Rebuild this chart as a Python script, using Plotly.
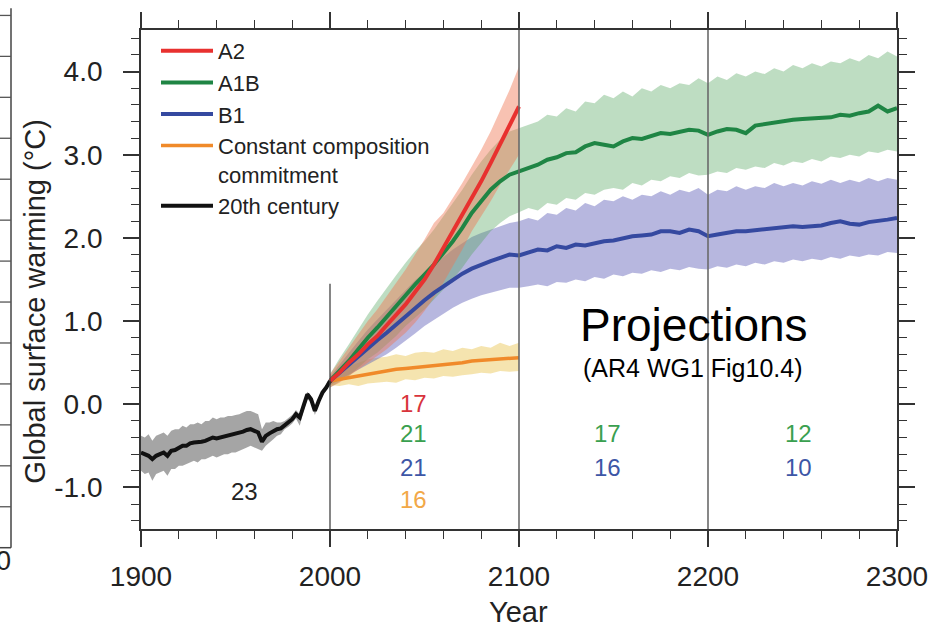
import plotly.graph_objects as go

# ---------------- data ----------------
years_20c = [1900, 1902, 1904, 1906, 1908, 1910, 1912, 1914, 1916, 1918, 1920, 1922, 1924,
             1926, 1928, 1930, 1932, 1934, 1936, 1938, 1940, 1942, 1944, 1946, 1948, 1950,
             1952, 1954, 1956, 1958, 1960, 1962, 1964, 1966, 1968, 1970, 1972, 1974, 1976,
             1978, 1980, 1982, 1984, 1986, 1988, 1990, 1992, 1994, 1996, 1998, 2000]
c20_mean = [-.58, -.60, -.62, -.66, -.62, -.60, -.58, -.62, -.56, -.55, -.52, -.50, -.50,
            -.47, -.46, -.46, -.45, -.44, -.42, -.40, -.41, -.40, -.38, -.38, -.37, -.36,
            -.35, -.33, -.31, -.30, -.32, -.34, -.45, -.38, -.35, -.32, -.30, -.29, -.25,
            -.22, -.18, -.12, -.16, -.02, .12, .06, -.08, .04, .14, .20, .28]
c20_upper = [-.38, -.40, -.36, -.44, -.38, -.36, -.34, -.38, -.32, -.30, -.30, -.26, -.28,
             -.24, -.24, -.22, -.24, -.20, -.20, -.16, -.18, -.16, -.16, -.14, -.14, -.13,
             -.12, -.10, -.08, -.08, -.10, -.12, -.30, -.22, -.22, -.20, -.22, -.22, -.20,
             -.17, -.13, -.07, -.12, .02, .15, .10, -.04, .08, .18, .24, .31]
c20_lower = [-.80, -.84, -.82, -.92, -.84, -.82, -.80, -.86, -.78, -.78, -.74, -.74, -.72,
             -.70, -.68, -.70, -.66, -.66, -.64, -.62, -.64, -.62, -.60, -.60, -.58, -.58,
             -.56, -.54, -.52, -.50, -.52, -.54, -.56, -.50, -.46, -.42, -.38, -.36, -.30,
             -.27, -.23, -.17, -.26, -.08, .06, .02, -.13, .00, .10, .17, .24]

years_21c = [2000, 2005, 2010, 2015, 2020, 2025, 2030, 2035, 2040, 2045, 2050,
             2055, 2060, 2065, 2070, 2075, 2080, 2085, 2090, 2095, 2100]
a2_mean = [.28, .38, .50, .60, .72, .82, .95, 1.08, 1.20, 1.35, 1.50,
           1.68, 1.88, 2.06, 2.26, 2.46, 2.68, 2.90, 3.12, 3.35, 3.58]
a2_upper = [.36, .52, .68, .84, 1.00, 1.14, 1.30, 1.46, 1.62, 1.80, 1.98,
            2.18, 2.30, 2.48, 2.66, 2.86, 3.06, 3.28, 3.52, 3.78, 4.06]
a2_lower = [.20, .26, .34, .42, .50, .58, .66, .76, .86, .98, 1.12,
            1.28, 1.46, 1.66, 1.86, 2.08, 2.26, 2.44, 2.64, 2.82, 3.00]
cc_mean = [.28, .30, .33, .35, .37, .39, .40, .42, .43, .44, .46,
           .46, .48, .49, .50, .52, .53, .54, .54, .56, .56]
cc_upper = [.33, .40, .46, .50, .54, .56, .57, .60, .58, .62, .63,
            .62, .66, .64, .68, .66, .70, .68, .74, .70, .74]
cc_lower = [.23, .22, .24, .22, .25, .26, .27, .26, .30, .29, .32,
            .31, .34, .33, .35, .36, .38, .37, .40, .39, .40]

years_long = [2000, 2005, 2010, 2015, 2020, 2025, 2030, 2035, 2040, 2045, 2050,
              2055, 2060, 2065, 2070, 2075, 2080, 2085, 2090, 2095, 2100,
              2105, 2110, 2115, 2120, 2125, 2130, 2135, 2140, 2145, 2150,
              2155, 2160, 2165, 2170, 2175, 2180, 2185, 2190, 2195, 2200,
              2205, 2210, 2215, 2220, 2225, 2230, 2235, 2240, 2245, 2250,
              2255, 2260, 2265, 2270, 2275, 2280, 2285, 2290, 2295, 2300]
a1b_mean = [.28, .40, .52, .66, .80, .92, 1.05, 1.18, 1.32, 1.44, 1.56,
            1.68, 1.82, 1.96, 2.12, 2.30, 2.44, 2.58, 2.68, 2.76, 2.80,
            2.84, 2.88, 2.94, 2.97, 3.02, 3.03, 3.10, 3.14, 3.12, 3.10,
            3.16, 3.20, 3.19, 3.22, 3.26, 3.25, 3.28, 3.30, 3.29, 3.24,
            3.28, 3.31, 3.30, 3.26, 3.35, 3.37, 3.38, 3.40, 3.42, 3.43,
            3.44, 3.44, 3.45, 3.48, 3.47, 3.50, 3.52, 3.59, 3.52, 3.56]
a1b_upper = [.36, .55, .72, .90, 1.08, 1.24, 1.40, 1.55, 1.70, 1.84, 1.96,
             2.10, 2.26, 2.42, 2.58, 2.76, 2.92, 3.06, 3.18, 3.28, 3.32,
             3.36, 3.40, 3.48, 3.46, 3.56, 3.52, 3.64, 3.62, 3.72, 3.68,
             3.76, 3.70, 3.80, 3.76, 3.84, 3.80, 3.86, 3.84, 3.92, 3.86,
             3.94, 3.90, 3.98, 3.94, 4.00, 3.97, 4.04, 4.00, 4.08, 4.04,
             4.10, 4.06, 4.12, 4.10, 4.16, 4.12, 4.20, 4.16, 4.24, 4.18]
a1b_lower = [.20, .27, .34, .44, .54, .62, .72, .82, .94, 1.04, 1.14,
             1.26, 1.38, 1.50, 1.64, 1.80, 1.94, 2.08, 2.18, 2.26, 2.31,
             2.36, 2.33, 2.42, 2.40, 2.48, 2.46, 2.54, 2.52, 2.58, 2.60,
             2.58, 2.66, 2.63, 2.70, 2.68, 2.74, 2.72, 2.78, 2.75, 2.76,
             2.80, 2.78, 2.84, 2.82, 2.86, 2.84, 2.90, 2.87, 2.92, 2.90,
             2.95, 2.92, 2.98, 2.96, 3.00, 2.98, 3.04, 3.02, 3.06, 3.04]
b1_mean = [.28, .38, .48, .58, .68, .77, .86, .96, 1.06, 1.16, 1.25,
           1.34, 1.42, 1.50, 1.57, 1.63, 1.68, 1.72, 1.76, 1.80, 1.79,
           1.82, 1.86, 1.85, 1.90, 1.88, 1.92, 1.91, 1.94, 1.96, 1.97,
           2.00, 2.02, 2.03, 2.04, 2.08, 2.08, 2.06, 2.10, 2.08, 2.02,
           2.04, 2.06, 2.08, 2.08, 2.09, 2.10, 2.11, 2.12, 2.14, 2.13,
           2.14, 2.15, 2.18, 2.20, 2.17, 2.16, 2.19, 2.20, 2.22, 2.24]
b1_upper = [.33, .48, .62, .76, .90, 1.02, 1.14, 1.26, 1.38, 1.49, 1.58,
            1.68, 1.77, 1.86, 1.94, 2.01, 2.06, 2.10, 2.14, 2.18, 2.20,
            2.24, 2.21, 2.30, 2.28, 2.36, 2.33, 2.42, 2.38, 2.46, 2.44,
            2.50, 2.46, 2.52, 2.50, 2.56, 2.52, 2.58, 2.55, 2.60, 2.52,
            2.58, 2.56, 2.62, 2.58, 2.62, 2.60, 2.66, 2.62, 2.66, 2.63,
            2.68, 2.65, 2.70, 2.66, 2.70, 2.67, 2.72, 2.68, 2.72, 2.70]
b1_lower = [.23, .30, .36, .42, .48, .54, .60, .68, .76, .85, .94,
            1.02, 1.09, 1.16, 1.22, 1.27, 1.31, 1.34, 1.37, 1.40, 1.40,
            1.42, 1.44, 1.42, 1.47, 1.46, 1.50, 1.48, 1.53, 1.51, 1.56,
            1.54, 1.58, 1.57, 1.61, 1.59, 1.63, 1.61, 1.65, 1.63, 1.62,
            1.66, 1.64, 1.68, 1.66, 1.70, 1.68, 1.72, 1.70, 1.74, 1.72,
            1.75, 1.73, 1.77, 1.75, 1.79, 1.77, 1.80, 1.79, 1.83, 1.82]

series_names = ["A2", "A1B", "B1", "Constant composition<br>commitment", "20th century"]
x_tick_vals = [1900, 2000, 2100, 2200, 2300]
y_tick_vals = [-1, 0, 1, 2, 3, 4]
y_tick_text = ["-1.0", "0.0", "1.0", "2.0", "3.0", "4.0"]

# model counts written on the chart: (text, year, value, colour-key)
count_labels = [
    ("23", 1954.6, -1.05, "black"),
    ("17", 2044, 0.01, "red"), ("21", 2044, -0.354, "green"),
    ("21", 2044, -0.755, "blue"), ("16", 2044, -1.145, "orange"),
    ("17", 2147, -0.354, "green"), ("16", 2147, -0.755, "blue"),
    ("12", 2248, -0.354, "green"), ("10", 2248, -0.755, "blue"),
]

# ---------------- styling ----------------
RED, GREEN, BLUE, ORANGE, BLACK = "#e8312f", "#1f8544", "#3549a0", "#f08a2a", "#111111"
text_colors = {"black": "#222222", "red": "#d8343c", "green": "#3aa04f",
               "blue": "#3d56a6", "orange": "#f2a847"}
FONT = "Liberation Sans, Arial, sans-serif"

W, H = 940, 625
ML, MR, MT, MB = 141, 43, 22, 96
PW, PH = W - ML - MR, H - MT - MB


def px_x(p):
    return (p - ML) / PW


def px_y(p):
    return (H - MB - p) / PH


def band(xs, up, lo, color):
    return go.Scatter(x=list(xs) + list(xs)[::-1], y=list(up) + list(lo)[::-1],
                      fill="toself", fillcolor=color, line=dict(width=0),
                      mode="lines", showlegend=False, hoverinfo="skip")


fig = go.Figure()
fig.add_trace(band(years_20c, c20_upper, c20_lower, "rgba(110,110,110,0.62)"))
fig.add_trace(band(years_21c, cc_upper, cc_lower, "rgba(236,205,110,0.55)"))
fig.add_trace(band(years_long, b1_upper, b1_lower, "rgba(95,95,185,0.45)"))
fig.add_trace(band(years_long, a1b_upper, a1b_lower, "rgba(85,165,95,0.38)"))
fig.add_trace(band(years_21c, a2_upper, a2_lower, "rgba(240,120,85,0.45)"))

fig.add_trace(go.Scatter(x=years_21c, y=cc_mean, mode="lines", name=series_names[3],
                         line=dict(color=ORANGE, width=3.5), legendrank=4))
fig.add_trace(go.Scatter(x=years_long, y=b1_mean, mode="lines", name=series_names[2],
                         line=dict(color=BLUE, width=4), legendrank=3))
fig.add_trace(go.Scatter(x=years_long, y=a1b_mean, mode="lines", name=series_names[1],
                         line=dict(color=GREEN, width=4), legendrank=2))
fig.add_trace(go.Scatter(x=years_21c, y=a2_mean, mode="lines", name=series_names[0],
                         line=dict(color=RED, width=4), legendrank=1))
fig.add_trace(go.Scatter(x=years_20c, y=c20_mean, mode="lines", name=series_names[4],
                         line=dict(color=BLACK, width=4), legendrank=5))

shapes = []
# century separators
shapes.append(dict(type="line", xref="x", yref="y", x0=2000, x1=2000, y0=-1.5, y1=1.45,
                   line=dict(color="#444444", width=1.3)))
for yr in (2100, 2200):
    shapes.append(dict(type="line", xref="x", yref="paper", x0=yr, x1=yr, y0=0, y1=1,
                       line=dict(color="#6a6a6a", width=1.6)))
# remnant of the neighbouring panel at the left edge
shapes.append(dict(type="line", xref="paper", yref="paper", x0=px_x(11), x1=px_x(11),
                   y0=px_y(548), y1=px_y(0), line=dict(color="#444444", width=1.5)))
shapes.append(dict(type="line", xref="paper", yref="paper", x0=px_x(-2), x1=px_x(11),
                   y0=px_y(548), y1=px_y(548), line=dict(color="#444444", width=1.5)))
for k in range(1, 14):
    yy = 548 - 41.6 * k
    shapes.append(dict(type="line", xref="paper", yref="paper", x0=px_x(-2), x1=px_x(11),
                       y0=px_y(yy), y1=px_y(yy), line=dict(color="#555555", width=1.3)))

annotations = []
for txt, xv, yv, ck in count_labels:
    annotations.append(dict(text=txt, x=xv, y=yv, xref="x", yref="y", showarrow=False,
                            font=dict(size=24, color=text_colors[ck], family=FONT)))
annotations.append(dict(text="Projections", x=2192.5, y=0.95, xref="x", yref="y",
                        showarrow=False, font=dict(size=46, color="#000000", family=FONT)))
annotations.append(dict(text="(AR4 WG1 Fig10.4)", x=2192, y=0.44, xref="x", yref="y",
                        showarrow=False, font=dict(size=25, color="#000000", family=FONT)))
annotations.append(dict(text="Global surface warming (°C)", x=px_x(35), y=px_y(298),
                        xref="paper", yref="paper", xanchor="center", yanchor="middle",
                        textangle=-90, showarrow=False,
                        font=dict(size=29, color="#222222", family=FONT)))
annotations.append(dict(text="Year", x=px_x(518), y=px_y(613), xref="paper", yref="paper",
                        xanchor="center", yanchor="middle", showarrow=False,
                        font=dict(size=29, color="#222222", family=FONT)))
annotations.append(dict(text="0", x=px_x(13), y=px_y(562), xref="paper", yref="paper",
                        xanchor="right", yanchor="middle", showarrow=False,
                        font=dict(size=27, color="#222222", family=FONT)))

axis_common = dict(showline=True, linecolor="#333333", linewidth=1.8, mirror="ticks",
                   ticks="outside", ticklen=16, tickwidth=1.6, tickcolor="#333333",
                   showgrid=False, zeroline=False,
                   tickfont=dict(size=28, color="#222222", family=FONT))

fig.update_layout(
    width=W, height=H, margin=dict(l=ML, r=MR, t=MT, b=MB),
    paper_bgcolor="white", plot_bgcolor="white",
    font=dict(family=FONT, color="#222222"),
    xaxis=dict(range=[1900, 2300], tickvals=x_tick_vals, ticklabelstandoff=5,
               minor=dict(ticks="outside", ticklen=8, tickwidth=1.3, tickcolor="#333333",
                          tick0=1900, dtick=20),
               **axis_common),
    yaxis=dict(range=[-1.5, 4.5], tickvals=y_tick_vals, ticktext=y_tick_text,
               ticklabelstandoff=15,
               minor=dict(ticks="outside", ticklen=8, tickwidth=1.3, tickcolor="#333333",
                          tick0=0, dtick=0.2),
               **axis_common),
    legend=dict(x=px_x(156), y=px_y(22), xanchor="left", yanchor="top",
                bgcolor="rgba(0,0,0,0)", font=dict(size=22, color="#222222", family=FONT),
                itemwidth=52, valign="top", tracegroupgap=0),
    shapes=shapes, annotations=annotations,
)

fig.write_html("out.html")
